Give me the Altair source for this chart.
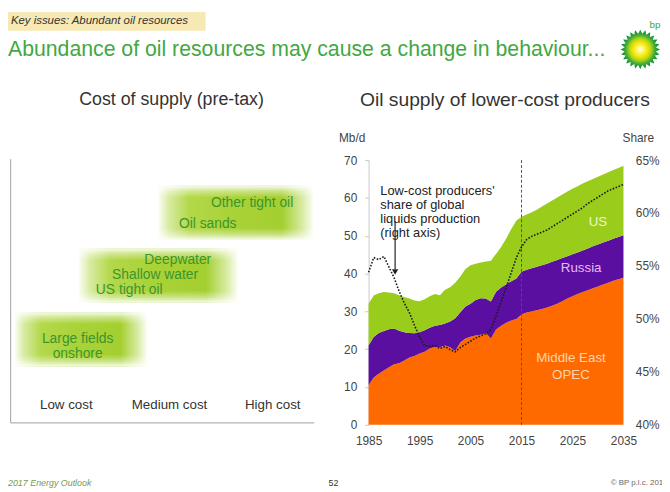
import math
import altair as alt
import pandas as pd

# ---------------- data ----------------
years = list(range(1985, 2036))
me_opec = [10.5, 12.5, 13.5, 14.4, 15.2, 16.0, 16.3, 17.0, 17.8, 18.2,
           18.9, 19.3, 20.2, 20.6, 20.5, 21.0, 20.5, 19.5, 21.8, 22.8,
           23.3, 23.6, 23.8, 24.2, 22.8, 25.2, 26.2, 27.0, 27.6, 28.0,
           29.2, 29.7, 30.0, 30.3, 30.6, 31.0, 31.5, 32.0, 32.7, 33.4,
           34.0, 34.6, 35.1, 35.6, 36.1, 36.6, 37.1, 37.6, 38.1, 38.5, 38.9]
russia = [10.5, 10.7, 10.8, 10.4, 10.1, 9.5, 8.6, 7.5, 6.5, 6.0,
          5.6, 5.7, 5.5, 5.6, 5.9, 5.8, 6.8, 8.7, 8.0, 8.5,
          8.7, 9.4, 9.7, 9.2, 9.8, 10.0, 10.1, 10.2, 10.4, 10.7,
          11.3, 11.3, 11.4, 11.5, 11.6, 11.6, 11.6, 11.6, 11.4, 11.2,
          11.1, 11.0, 11.0, 11.0, 11.1, 11.1, 11.1, 11.1, 11.1, 11.2, 11.2]
us = [11.0, 11.0, 10.5, 10.3, 9.7, 9.3, 9.4, 9.3, 9.1, 8.7,
      8.2, 8.2, 8.3, 8.4, 7.9, 8.9, 9.1, 9.4, 9.4, 9.9,
      10.2, 9.6, 9.4, 9.8, 10.8, 10.0, 10.7, 12.1, 13.8, 15.3,
      14.5, 14.6, 14.8, 15.1, 15.5, 15.9, 16.2, 16.5, 16.8, 17.1,
      17.3, 17.5, 17.7, 17.8, 17.8, 17.9, 18.0, 18.1, 18.2, 18.2, 18.4]
share = [54.4, 55.8, 55.6, 55.9, 54.9, 53.9, 52.6, 51.5, 50.6, 49.4,
         48.3, 47.5, 47.4, 47.5, 47.2, 47.4, 47.1, 46.9, 47.3, 47.6,
         47.9, 48.2, 48.4, 48.6, 49.0, 50.3, 51.6, 53.0, 54.4, 55.8,
         56.8, 57.5, 57.8, 58.0, 58.2, 58.4, 58.7, 59.0, 59.3, 59.6,
         59.9, 60.2, 60.5, 60.9, 61.2, 61.5, 61.8, 62.1, 62.3, 62.5, 62.7]
series_names = ["Middle East OPEC", "Russia", "US"]
series_colors = ["#ff6a00", "#5a0fa0", "#9acc1c"]
year_ticks = [1985, 1995, 2005, 2015, 2025, 2035]
mbd_ticks = [0, 10, 20, 30, 40, 50, 60, 70]
share_ticks = [40, 45, 50, 55, 60, 65]
base_year = [2015]

area_labels = ["US", "Russia", "Middle East", "OPEC"]
area_label_year = [2030.0, 2026.7, 2024.7, 2024.7]
area_label_value = [53.5, 41.5, 17.6, 13.2]
area_label_colors = ["#eef6cc", "#eab8f2", "#ffd3a8", "#ffd4aa"]

# left panel: cost ranges (cost index 0..3) and tiers
box_cost_lo = [0.0, 0.62, 1.39]
box_cost_hi = [1.28, 2.16, 2.89]
box_tier_lo = [0.61, 1.62, 2.61]
box_tier_hi = [1.47, 2.48, 3.47]
resources = ["Other tight oil", "Oil sands", "Deepwater", "Shallow water",
             "US tight oil", "Large fields\nonshore"]
resource_cost = [2.30, 1.87, 1.58, 1.36, 1.11, 0.61]
resource_tier = [3.20, 2.86, 2.29, 2.05, 1.82, 1.04]
cost_cats = ["Low cost", "Medium cost", "High cost"]
cost_cat_pos = [0.5, 1.5, 2.5]

# ---------------- layout ----------------
W, H = 662, 484
FONT = "Liberation Sans"
X_YEAR = alt.Scale(domain=[1985, 2035], range=[365, 623], nice=False, zero=False)
Y_MBD = alt.Scale(domain=[0, 70], range=[419, 151], nice=False, zero=False)
Y_SHARE = alt.Scale(domain=[40, 65], range=[419, 151], nice=False, zero=False)
X_COST = alt.Scale(domain=[0, 3], range=[6.75, 320.25], nice=False, zero=False)
Y_TIER = alt.Scale(domain=[0, 4], range=[399, 143], nice=False, zero=False)

one = pd.DataFrame({"k": [0]})

rows = []
for i, yr in enumerate(years):
    for o, (nm, arr) in enumerate(zip(series_names, [me_opec, russia, us])):
        rows.append({"year": yr, "series": nm, "value": arr[i], "ord": o})
area_df = pd.DataFrame(rows)
share_df = pd.DataFrame({"year": years, "share": share})

areas = alt.Chart(area_df).mark_area(interpolate="linear").encode(
    x=alt.X("year:Q", scale=X_YEAR, title=None,
            axis=alt.Axis(values=year_ticks, format="d", domain=False, ticks=False,
                          tickSize=0, grid=False, labelPadding=11, labelFontSize=12,
                          labelColor="#444", offset=419 - H, labelFlush=False)),
    y=alt.Y("value:Q", stack="zero", scale=Y_MBD, title=None,
            axis=alt.Axis(values=mbd_ticks, grid=False, domainColor="#c8c8c8",
                          tickColor="#c8c8c8", tickSize=4, labelPadding=8,
                          labelFontSize=12, labelColor="#444", offset=-365)),
    color=alt.Color("series:N", scale=alt.Scale(domain=series_names, range=series_colors),
                    legend=None),
    order=alt.Order("ord:Q"),
)

rule2015 = alt.Chart(pd.DataFrame({"year": base_year, "lo": [0], "hi": [70]})).mark_rule(
    color="#555555", strokeDash=[3, 2], strokeWidth=1
).encode(
    x=alt.X("year:Q", scale=X_YEAR, axis=None),
    y=alt.Y("lo:Q", scale=Y_MBD, axis=None),
    y2="hi:Q",
)

share_line = alt.Chart(share_df).mark_line(
    color="#1a1a1a", strokeDash=[1.6, 1.6], strokeWidth=1.6
).encode(
    x=alt.X("year:Q", scale=X_YEAR, axis=None),
    y=alt.Y("share:Q", scale=Y_SHARE, title=None,
            axis=alt.Axis(orient="right", values=share_ticks, labelExpr="datum.value + '%'",
                          domain=False, ticks=False, tickSize=0, grid=False,
                          labelPadding=12, labelFontSize=12, labelColor="#444",
                          offset=623 - W)),
)

lab_df = pd.DataFrame({"text": area_labels, "year": area_label_year, "value": area_label_value})
area_text = alt.Chart(lab_df).mark_text(fontSize=13.5, align="center", baseline="middle").encode(
    x=alt.X("year:Q", scale=X_YEAR, axis=None),
    y=alt.Y("value:Q", scale=Y_MBD, axis=None),
    text="text:N",
    color=alt.Color("text:N", scale=alt.Scale(domain=area_labels, range=area_label_colors),
                    legend=None),
)

annot = alt.Chart(pd.DataFrame({"year": [1987.3], "value": [61.7]})).mark_text(
    text=["Low-cost producers'", "share of global", "liquids production", "(right axis)"],
    align="left", baseline="middle", lineHeight=14, fontSize=13, color="#222222"
).encode(
    x=alt.X("year:Q", scale=X_YEAR, axis=None),
    y=alt.Y("value:Q", scale=Y_MBD, axis=None),
)
arrow = alt.Chart(pd.DataFrame({"year": [1990.2], "a": [53.8], "b": [41.2]})).mark_rule(
    color="#222222", strokeWidth=1.2
).encode(
    x=alt.X("year:Q", scale=X_YEAR, axis=None),
    y=alt.Y("a:Q", scale=Y_MBD, axis=None),
    y2="b:Q",
)
arrow_head = alt.Chart(pd.DataFrame({"year": [1990.2], "v": [40.4]})).mark_point(
    shape="triangle-down", size=40, filled=True, color="#222222", opacity=1
).encode(
    x=alt.X("year:Q", scale=X_YEAR, axis=None),
    y=alt.Y("v:Q", scale=Y_MBD, axis=None),
)

def txt(s, x, y, **kw):
    return alt.Chart(one).mark_text(text=s, **kw).encode(x=alt.value(x), y=alt.value(y))

mbd_title = txt("Mb/d", 335, 129, align="left", baseline="middle", fontSize=12, color="#444")
share_title = txt("Share", 622, 129, align="left", baseline="middle", fontSize=12, color="#444")

# ---- left panel ----
box_df = pd.DataFrame({"lo": box_cost_lo, "hi": box_cost_hi,
                       "ylo": box_tier_lo, "yhi": box_tier_hi})
h_grad = alt.Gradient(
    gradient="linear", x1=0, x2=1, y1=0, y2=0,
    stops=[{"offset": 0, "color": "#fbfdf4"}, {"offset": 0.07, "color": "#d8eba2"},
           {"offset": 0.2, "color": "#b3d84a"}, {"offset": 0.5, "color": "#a8d236"},
           {"offset": 0.8, "color": "#a4cf30"}, {"offset": 0.93, "color": "#d8eba2"},
           {"offset": 1, "color": "#fbfdf4"}])
v_grad = alt.Gradient(
    gradient="linear", x1=0, x2=0, y1=0, y2=1,
    stops=[{"offset": 0, "color": "rgba(255,255,255,0.92)"},
           {"offset": 0.1, "color": "rgba(255,255,255,0.4)"},
           {"offset": 0.22, "color": "rgba(255,255,255,0.0)"},
           {"offset": 0.78, "color": "rgba(255,255,255,0.0)"},
           {"offset": 0.9, "color": "rgba(255,255,255,0.4)"},
           {"offset": 1, "color": "rgba(255,255,255,0.92)"}])
box_enc = dict(
    x=alt.X("lo:Q", scale=X_COST, axis=None), x2="hi:Q",
    y=alt.Y("ylo:Q", scale=Y_TIER, axis=None), y2="yhi:Q",
)
boxes = alt.Chart(box_df).mark_rect(fill=h_grad).encode(**box_enc)
boxes_fade = alt.Chart(box_df).mark_rect(fill=v_grad).encode(**box_enc)

res_df = pd.DataFrame({"name": resources, "cost": resource_cost, "tier": resource_tier})
res_text = alt.Chart(res_df).mark_text(
    fontSize=14, color="#3c952c", align="center", baseline="middle", lineBreak="\n", lineHeight=15
).encode(
    x=alt.X("cost:Q", scale=X_COST, axis=None),
    y=alt.Y("tier:Q", scale=Y_TIER, axis=None),
    text="name:N",
)
cat_df = pd.DataFrame({"name": cost_cats, "cost": cost_cat_pos, "tier": [0, 0, 0]})
cat_text = alt.Chart(cat_df).mark_text(
    fontSize=13.5, color="#333333", align="center", baseline="middle"
).encode(
    x=alt.X("cost:Q", scale=X_COST, axis=None),
    y=alt.Y("tier:Q", scale=Y_TIER, axis=None),
    text="name:N",
)
frame_v = alt.Chart(one).mark_rule(color="#a0a0a0", strokeWidth=1).encode(
    x=alt.value(2.7), y=alt.value(150), y2=alt.value(417))
frame_h = alt.Chart(one).mark_rule(color="#a0a0a0", strokeWidth=1).encode(
    x=alt.value(2.7), x2=alt.value(310), y=alt.value(417))

# ---- header / titles / footer ----
header_box = alt.Chart(one).mark_rect(color="#f7e9b4").encode(
    x=alt.value(0), x2=alt.value(200), y=alt.value(1), y2=alt.value(20))
header = txt("Key issues: Abundant oil resources", 3, 10.5, align="left", baseline="middle",
             fontSize=11.5, fontStyle="italic", color="#333333")
title = txt("Abundance of oil resources may cause a change in behaviour...", 0, 40,
            align="left", baseline="middle", fontSize=21.5, color="#42a83f")
sub_left = txt("Cost of supply (pre-tax)", 165.5, 90, align="center", baseline="middle",
               fontSize=18, color="#333333")
sub_right = txt("Oil supply of lower-cost producers", 503, 90, align="center",
                baseline="middle", fontSize=19.5, color="#333333")

pts = []
n = 24
for k in range(2 * n):
    r = 1.0 if k % 2 == 0 else 0.8
    a = math.pi * k / n
    pts.append(f"{r * math.cos(a):.3f},{r * math.sin(a):.3f}")
sun_path = "M" + " L".join(pts) + " Z"
sun_grad = alt.Gradient(
    gradient="radial", x1=0.5, y1=0.5, r1=0, x2=0.5, y2=0.5, r2=0.5,
    stops=[{"offset": 0, "color": "#ffffee"}, {"offset": 0.18, "color": "#fff66a"},
           {"offset": 0.38, "color": "#f2e600"}, {"offset": 0.55, "color": "#b2d61c"},
           {"offset": 0.75, "color": "#3faa35"}, {"offset": 1, "color": "#00853a"}])
logo = alt.Chart(one).mark_point(shape=sun_path, size=1600, filled=True, fill=sun_grad,
                                 strokeWidth=0, opacity=1).encode(
    x=alt.value(640), y=alt.value(39))
bp = txt("bp", 655, 14, align="center", baseline="middle", fontSize=10, color="#3faa35")

foot1 = txt("2017 Energy Outlook", 0, 478, align="left", baseline="middle", fontSize=9,
            fontStyle="italic", color="#7a9a4a")
foot2 = txt("52", 329.5, 478, align="center", baseline="middle", fontSize=9, color="#333333")
foot3 = txt("\u00a9 BP p.l.c. 2017", 610, 478, align="left", baseline="middle", fontSize=8,
            color="#666666")

chart = alt.layer(
    header_box, header, title, logo, bp, sub_left, sub_right,
    boxes, boxes_fade, res_text, cat_text, frame_v, frame_h,
    areas, rule2015, share_line, area_text, annot, arrow, arrow_head,
    mbd_title, share_title, foot1, foot2, foot3,
).resolve_scale(
    x="independent", y="independent", color="independent"
).properties(
    width=W, height=H, padding=0, background="white",
    autosize=alt.AutoSizeParams(type="none"),
).configure_view(stroke=None).configure_text(font=FONT).configure_axis(
    labelFont=FONT
)

chart.save("out.html", embed_options={"renderer": "svg", "actions": False})
